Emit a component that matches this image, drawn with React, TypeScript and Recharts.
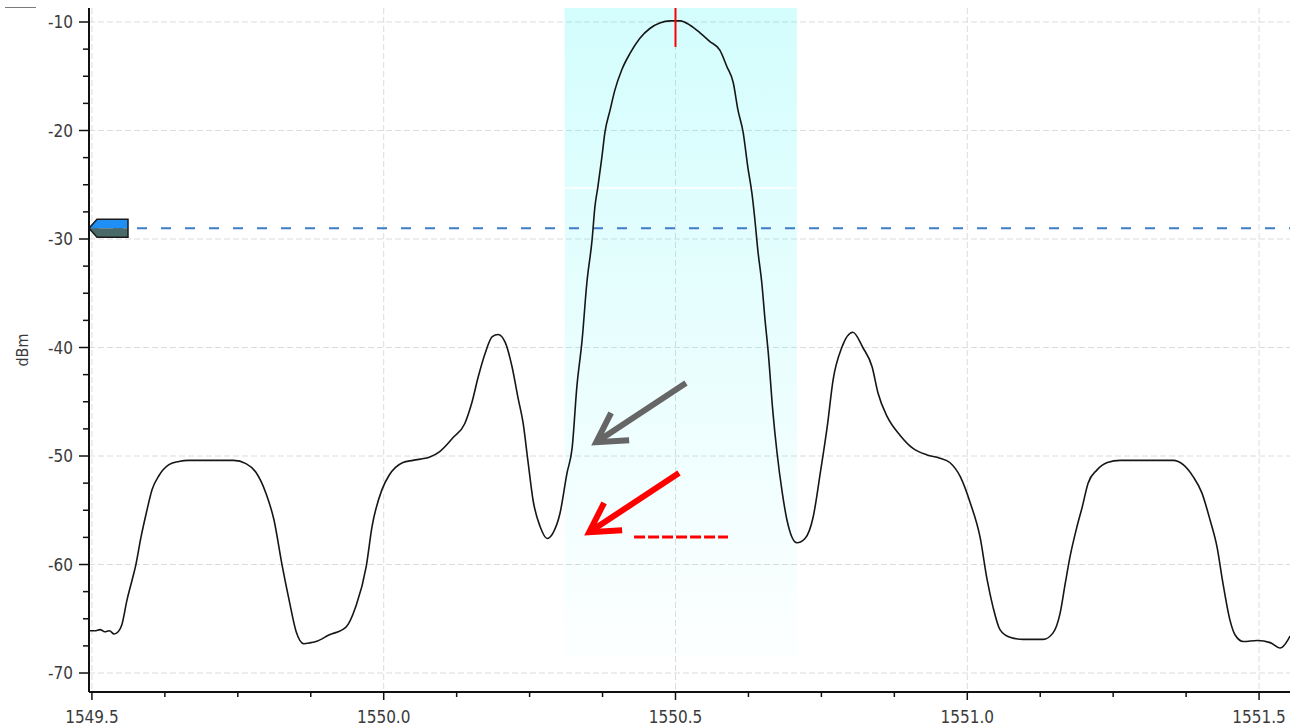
import React from "react";
import {
  CartesianGrid,
  Line,
  LineChart,
  ReferenceArea,
  ReferenceLine,
  XAxis,
  YAxis
} from "recharts";

// spectrum trace
const WAVELENGTH_NM = [
  1549.495, 1549.505, 1549.514, 1549.522, 1549.53, 1549.538, 1549.545, 1549.551, 1549.56,
  1549.569, 1549.575, 1549.584, 1549.593, 1549.603, 1549.615, 1549.632, 1549.649, 1549.666,
  1549.705, 1549.743, 1549.764, 1549.781, 1549.798, 1549.812, 1549.826, 1549.838, 1549.85,
  1549.863, 1549.875, 1549.884, 1549.906, 1549.935, 1549.952, 1549.97, 1549.98, 1549.997,
  1550.009, 1550.033, 1550.05, 1550.079, 1550.096, 1550.119, 1550.139, 1550.151, 1550.162,
  1550.174, 1550.186, 1550.196, 1550.208, 1550.22, 1550.23, 1550.239, 1550.247, 1550.256,
  1550.268, 1550.28, 1550.29, 1550.302, 1550.314, 1550.323, 1550.331, 1550.34, 1550.348,
  1550.357, 1550.362, 1550.367, 1550.374, 1550.379, 1550.388, 1550.396, 1550.408, 1550.422,
  1550.439, 1550.456, 1550.473, 1550.491, 1550.508, 1550.525, 1550.542, 1550.559, 1550.576,
  1550.588, 1550.599, 1550.607, 1550.616, 1550.624, 1550.631, 1550.636, 1550.641, 1550.648,
  1550.653, 1550.659, 1550.667, 1550.674, 1550.683, 1550.691, 1550.708, 1550.722, 1550.736,
  1550.748, 1550.76, 1550.77, 1550.785, 1550.804, 1550.821, 1550.837, 1550.847, 1550.863,
  1550.885, 1550.907, 1550.931, 1550.953, 1550.97, 1550.988, 1551.005, 1551.022, 1551.034,
  1551.044, 1551.056, 1551.073, 1551.096, 1551.13, 1551.147, 1551.159, 1551.168, 1551.176,
  1551.188, 1551.197, 1551.207, 1551.222, 1551.24, 1551.262, 1551.307, 1551.353, 1551.37,
  1551.387, 1551.402, 1551.416, 1551.428, 1551.438, 1551.45, 1551.459, 1551.473, 1551.497,
  1551.519, 1551.536, 1551.55, 1551.553
];

const POWER_DBM = [
  -66.1, -66.1, -66.0, -66.2, -66.1, -66.4, -66.2, -65.6, -63.3,
  -61.4, -60.1, -57.5, -55.3, -53.1, -51.8, -50.8, -50.5, -50.4,
  -50.4, -50.4, -50.7, -51.5, -53.4, -55.9, -60.1, -63.3, -66.2,
  -67.3, -67.2, -67.1, -66.5, -65.8, -63.9, -60.2, -56.5, -53.1,
  -51.8, -50.6, -50.4, -50.1, -49.6, -48.3, -47.0, -45.1, -42.7,
  -40.5, -39.0, -38.8, -39.5, -41.8, -44.6, -47.0, -50.4, -54.1,
  -56.5, -57.6, -57.1, -55.3, -51.6, -49.2, -43.6, -39.3, -34.1,
  -30.1, -27.0, -25.2, -22.4, -20.2, -18.1, -16.3, -14.4, -12.9,
  -11.5, -10.6, -10.1, -9.9, -9.9, -10.3, -11.0, -11.8, -12.6,
  -14.1, -15.6, -18.1, -20.2, -23.4, -25.8, -28.2, -31.0, -34.1,
  -37.2, -40.5, -46.0, -49.7, -53.4, -55.9, -58.0, -57.6, -55.6,
  -51.6, -47.3, -43.0, -40.0, -38.6, -40.0, -41.8, -44.2, -46.4,
  -48.1, -49.3, -49.9, -50.2, -50.6, -51.9, -54.3, -57.5, -61.4,
  -63.9, -66.0, -66.7, -66.9, -66.9, -66.3, -64.5, -61.7, -59.3,
  -56.5, -54.7, -52.5, -51.3, -50.6, -50.4, -50.4, -50.4, -50.8,
  -51.9, -53.4, -55.9, -58.4, -61.7, -65.1, -66.5, -67.1, -67.0,
  -67.2, -67.7, -66.9, -66.6
];

const X_TICKS = [
  1549.5, 1549.625, 1549.75, 1549.875, 1550.0, 1550.125, 1550.25, 1550.375, 1550.5,
  1550.625, 1550.75, 1550.875, 1551.0, 1551.125, 1551.25, 1551.375, 1551.5
];
const X_MAJOR = [1549.5, 1550.0, 1550.5, 1551.0, 1551.5];
const Y_TICKS = [
  -70, -67.5, -65, -62.5, -60, -57.5, -55, -52.5, -50, -47.5, -45, -42.5, -40,
  -37.5, -35, -32.5, -30, -27.5, -25, -22.5, -20, -17.5, -15, -12.5, -10
];
const Y_MAJOR = [-70, -60, -50, -40, -30, -20, -10];

const X_DOMAIN = [1549.495, 1551.553];
const Y_DOMAIN = [-71.75, -8.71];

// annotations, in data units
const PASSBAND_NM = [1550.31, 1550.708];
const PASSBAND_FLOOR_DBM = -68.5;
const THRESHOLD_DBM = -29;
const WHITE_RULE_DBM = -25.3;
const PEAK_NM = 1550.5;
const PEAK_MARK_DBM = -12.3;
const GRAY_ARROW = [
  { x: 1550.518, y: -43.27 },
  { x: 1550.357, y: -48.99 }
];
const RED_ARROW = [
  { x: 1550.506, y: -51.57 },
  { x: 1550.345, y: -57.28 }
];
const RED_DASH = [
  { x: 1550.429, y: -57.46 },
  { x: 1550.59, y: -57.46 }
];

const FONT = '"DejaVu Sans Condensed", "DejaVu Sans", sans-serif';
const TEXT = "#3a3a3a";

const data = WAVELENGTH_NM.map((nm, i) => ({ nm, dbm: POWER_DBM[i] }));

function XTick(props: any) {
  const { x, y, payload } = props;
  const v = payload.value as number;
  const major = Math.abs(v * 2 - Math.round(v * 2)) < 1e-6;
  return (
    <g>
      <line x1={x} x2={x} y1={y} y2={y + (major ? 8 : 5)} stroke="#111" strokeWidth={1.5} />
      {major ? (
        <text x={x} y={y + 31} textAnchor="middle" fill={TEXT} fontFamily={FONT} fontSize={17}>
          {v.toFixed(1)}
        </text>
      ) : null}
    </g>
  );
}

function YTick(props: any) {
  const { x, y, payload } = props;
  const v = payload.value as number;
  const major = v % 10 === 0;
  return (
    <g>
      <line x1={x - (major ? 10 : 6)} x2={x} y1={y} y2={y} stroke="#111" strokeWidth={1.5} />
      {major ? (
        <text x={x - 16} y={y} dy="0.36em" textAnchor="end" fill={TEXT} fontFamily={FONT} fontSize={17}>
          {v}
        </text>
      ) : null}
    </g>
  );
}

function ThresholdMarker(props: any) {
  const vb = props.viewBox || {};
  const x = vb.x as number;
  const y = vb.y as number;
  const top = `${x},${y} ${x + 8},${y - 9} ${x + 39},${y - 9} ${x + 39},${y}`;
  const bottom = `${x},${y} ${x + 39},${y} ${x + 39},${y + 9} ${x + 8},${y + 9}`;
  const outline = `${x},${y} ${x + 8},${y - 9} ${x + 39},${y - 9} ${x + 39},${y + 9} ${x + 8},${y + 9}`;
  return (
    <g>
      <polygon points={top} fill="#1f8ef5" />
      <polygon points={bottom} fill="#4a6a6a" />
      <polygon points={outline} fill="none" stroke="#1b1b1b" strokeWidth={1.5} />
    </g>
  );
}

function arrowShape(color: string) {
  return (p: any) => {
    const { x1, y1, x2, y2 } = p;
    const ang = Math.atan2(y1 - y2, x1 - x2);
    const vx = x2 + 5 * Math.cos(ang);
    const vy = y2 + 5 * Math.sin(ang);
    const len = 33;
    const spread = 0.52;
    const b1x = vx + len * Math.cos(ang - spread);
    const b1y = vy + len * Math.sin(ang - spread);
    const b2x = vx + len * Math.cos(ang + spread);
    const b2y = vy + len * Math.sin(ang + spread);
    return (
      <g>
        <line x1={x1} y1={y1} x2={vx + 4 * Math.cos(ang)} y2={vy + 4 * Math.sin(ang)} stroke={color} strokeWidth={6} />
        <polyline
          points={`${b1x},${b1y} ${vx},${vy} ${b2x},${b2y}`}
          fill="none"
          stroke={color}
          strokeWidth={6}
          strokeLinejoin="miter"
        />
      </g>
    );
  };
}

export default function App() {
  return (
    <div style={{ position: "absolute", left: 0, top: 0, width: 1290, height: 726, background: "#fff" }}>
      <div style={{ position: "absolute", left: 5, top: 7, width: 31, height: 1, background: "#7a7a7a" }} />
      <LineChart width={1290} height={726} data={data} margin={{ top: 8, right: 0, bottom: 0, left: 0 }}>
        <defs>
          <linearGradient id="passbandFill" x1="0" x2="0" y1="0" y2="1">
            <stop offset="0%" stopColor="rgb(0,243,243)" stopOpacity={0.17} />
            <stop offset="100%" stopColor="rgb(0,243,243)" stopOpacity={0.01} />
          </linearGradient>
        </defs>
        <ReferenceArea
          x1={PASSBAND_NM[0]}
          x2={PASSBAND_NM[1]}
          y1={PASSBAND_FLOOR_DBM}
          y2={Y_DOMAIN[1]}
          fill="url(#passbandFill)"
          fillOpacity={1}
          stroke="none"
        />
        <CartesianGrid
          stroke="#dcdcdc"
          strokeDasharray="6 3"
          horizontalValues={Y_MAJOR}
          verticalValues={X_MAJOR}
        />
        <XAxis
          type="number"
          dataKey="nm"
          domain={X_DOMAIN}
          allowDataOverflow
          ticks={X_TICKS}
          interval={0}
          height={34}
          tickLine={false}
          tickSize={0}
          tickMargin={0}
          tick={<XTick />}
          axisLine={{ stroke: "#111", strokeWidth: 2 }}
        />
        <YAxis
          type="number"
          domain={Y_DOMAIN}
          allowDataOverflow
          ticks={Y_TICKS}
          interval={0}
          width={89}
          tickLine={false}
          tickSize={0}
          tickMargin={0}
          tick={<YTick />}
          axisLine={{ stroke: "#111", strokeWidth: 2 }}
          label={{
            content: (p: any) => {
              const vb = p.viewBox || {};
              const cx = vb.x + 22;
              const cy = vb.y + vb.height / 2;
              return (
                <text
                  x={cx}
                  y={cy}
                  transform={`rotate(-90 ${cx} ${cy})`}
                  textAnchor="middle"
                  dy="0.36em"
                  fill={TEXT}
                  fontFamily={FONT}
                  fontSize={16}
                >
                  dBm
                </text>
              );
            }
          }}
        />
        <ReferenceLine y={WHITE_RULE_DBM} stroke="#ffffff" strokeWidth={1.5} />
        <ReferenceLine
          y={THRESHOLD_DBM}
          stroke="#3d7cc9"
          strokeWidth={2}
          strokeDasharray="10 14"
          label={{ content: (p: any) => <ThresholdMarker viewBox={p.viewBox} /> }}
        />
        <Line
          type="monotone"
          dataKey="dbm"
          stroke="#161616"
          strokeWidth={1.6}
          dot={false}
          activeDot={false}
          isAnimationActive={false}
        />
        <ReferenceLine
          segment={[
            { x: PEAK_NM, y: Y_DOMAIN[1] },
            { x: PEAK_NM, y: PEAK_MARK_DBM }
          ]}
          stroke="#ff0000"
          strokeWidth={2}
        />
        <ReferenceLine segment={RED_DASH} stroke="#ff0000" strokeWidth={3} strokeDasharray="11 3" />
        <ReferenceLine segment={GRAY_ARROW} shape={arrowShape("#666666")} />
        <ReferenceLine segment={RED_ARROW} shape={arrowShape("#ff0000")} />
      </LineChart>
    </div>
  );
}
